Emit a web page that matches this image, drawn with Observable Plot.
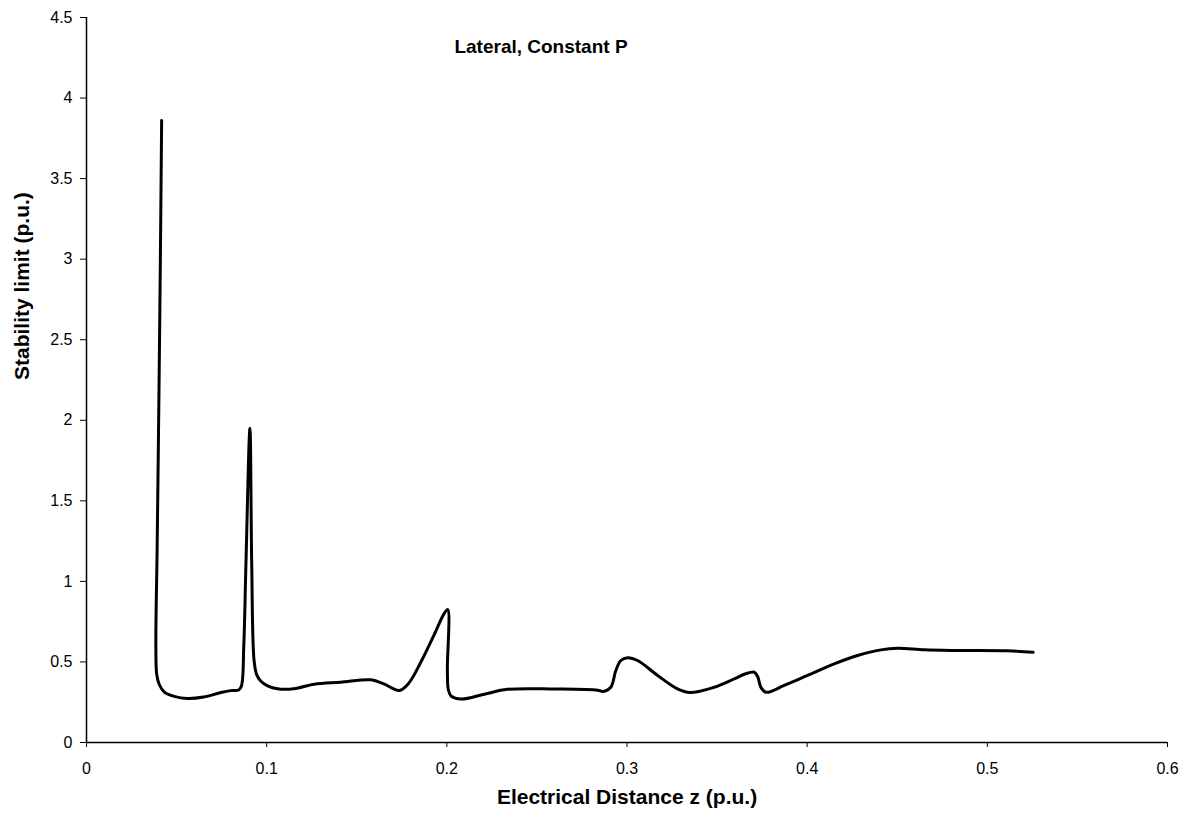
<!DOCTYPE html>
<html>
<head>
<meta charset="utf-8">
<script src="https://cdn.jsdelivr.net/npm/d3@7"></script>
<script src="https://cdn.jsdelivr.net/npm/@observablehq/plot@0.6"></script>
<style>
  html, body { margin: 0; padding: 0; background: #fff; }
  #chart { width: 1194px; height: 819px; }
  #chart g[aria-label="x-axis tick label"], #chart g[aria-label="y-axis tick label"] { font-size: 16px; }
</style>
</head>
<body>
<div id="chart"></div>
<script>
const chartTitle = "Lateral, Constant P";
const xLabel = "Electrical Distance z (p.u.)";
const yLabel = "Stability limit (p.u.)";
const xTicks = [0, 0.1, 0.2, 0.3, 0.4, 0.5, 0.6];
const yTicks = [0, 0.5, 1, 1.5, 2, 2.5, 3, 3.5, 4, 4.5];

const zValues = [
  0.0417, 0.0410, 0.0402, 0.0392, 0.0385, 0.0390, 0.0404, 0.0432, 0.0487, 0.056,
  0.065, 0.0746, 0.080, 0.0845, 0.086, 0.0873, 0.0885, 0.0907, 0.0917, 0.093,
  0.0945, 0.0968, 0.1005, 0.106, 0.115, 0.1264, 0.141, 0.158, 0.165, 0.1736,
  0.179, 0.1856, 0.193, 0.1985, 0.2005, 0.2003, 0.2008, 0.2023, 0.208, 0.2208,
  0.2337, 0.26, 0.2837, 0.2866, 0.291, 0.2938, 0.2966, 0.3003, 0.3059, 0.317,
  0.328, 0.335, 0.3484, 0.3595, 0.3655, 0.3706, 0.3725, 0.3743, 0.377, 0.3873,
  0.4002, 0.415, 0.428, 0.4409, 0.4502, 0.465, 0.4835, 0.511, 0.5254
];
const limitValues = [
  3.86, 3.0, 2.15, 1.2, 0.6, 0.42, 0.36, 0.313, 0.286, 0.273,
  0.282, 0.31, 0.322, 0.326, 0.35, 0.6, 1.11, 1.95, 1.11, 0.51,
  0.42, 0.38, 0.352, 0.333, 0.333, 0.362, 0.374, 0.389, 0.364, 0.323,
  0.37, 0.5, 0.67, 0.80, 0.825, 0.45, 0.33, 0.29, 0.27, 0.30,
  0.33, 0.332, 0.325, 0.317, 0.343, 0.447, 0.509, 0.526, 0.509, 0.416,
  0.333, 0.31, 0.343, 0.395, 0.425, 0.436, 0.41, 0.343, 0.312, 0.354,
  0.416, 0.488, 0.54, 0.575, 0.585, 0.575, 0.571, 0.569, 0.56
];

const data = zValues.map((z, i) => ({z, s: limitValues[i]}));

const font = "'Liberation Sans', Arial, sans-serif";

const chart = Plot.plot({
  width: 1194,
  height: 819,
  marginLeft: 86,
  marginRight: 27,
  marginTop: 17,
  marginBottom: 77,
  style: {fontFamily: font, fontSize: "16px", color: "#000", background: "#fff"},
  x: {domain: [0, 0.6], ticks: xTicks, tickFormat: d => String(d), label: null},
  y: {domain: [0, 4.5], ticks: yTicks, tickFormat: d => String(d), label: null},
  marks: [
    Plot.axisY({ticks: yTicks, tickFormat: d => String(d), tickSize: 6, tickPadding: 8, stroke: "#000"}),
    Plot.axisX({ticks: xTicks, tickFormat: d => String(d), tickSize: 5, tickPadding: 15, stroke: "#000"}),
    Plot.ruleX([0], {stroke: "#000", strokeWidth: 1.5}),
    Plot.ruleY([0], {stroke: "#000", strokeWidth: 1.5}),
    Plot.line(data, {x: "z", y: "s", stroke: "#000", strokeWidth: 3, curve: "catmull-rom"}),
    Plot.text([chartTitle], {frameAnchor: "top", dx: -86, dy: 22, fontWeight: "bold", fontSize: 19, fill: "#000"}),
    Plot.text([xLabel], {frameAnchor: "bottom", dy: 61, fontWeight: "bold", fontSize: 21, fill: "#000"}),
    Plot.text([yLabel], {frameAnchor: "left", dx: -64, dy: 0, rotate: -90, fontWeight: "bold", fontSize: 21, fill: "#000"})
  ]
});

d3.select(chart).selectAll('g[aria-label$="tick label"]').attr("font-size", 16);

document.getElementById("chart").appendChild(chart);
</script>
</body>
</html>
